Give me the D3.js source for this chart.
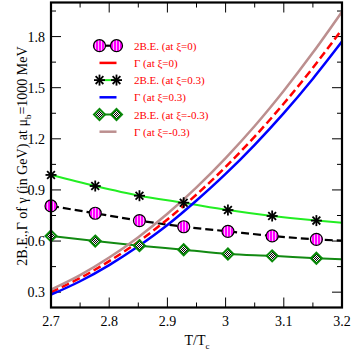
<!DOCTYPE html>
<html>
<head>
<meta charset="utf-8">
<script src="https://cdn.jsdelivr.net/npm/d3@7"></script>
<style>
  body { margin: 0; background: #fff; }
  svg text { font-family: "Liberation Serif", "Times New Roman", "DejaVu Serif", serif; }
  .tick-label { font-size: 14px; fill: #000; }
  .axis-title { font-size: 14px; fill: #000; }
  .legend { font-size: 11px; fill: #ff0000; }
</style>
</head>
<body>
<div id="chart"></div>
<script>
const width = 354;
const height = 354;

const margin = { top: 2.5, right: 12, bottom: 46.5, left: 51 };

// marker positions (T/Tc)
const tMarkers = [2.7, 2.776, 2.852, 2.928, 3.004, 3.08, 3.156];
// 2B.E. values
const beXi0   = [0.806, 0.763, 0.720, 0.684, 0.657, 0.630, 0.610];
const beXiP03 = [0.988, 0.923, 0.866, 0.825, 0.782, 0.747, 0.720];
const beXiM03 = [0.630, 0.600, 0.573, 0.549, 0.524, 0.513, 0.499];
// line end values at T/Tc = 3.2
const beEnd = { xi0: 0.602, xiP03: 0.708, xiM03: 0.493 };

// Gamma curves
const tCurve = [2.7, 2.75, 2.8, 2.85, 2.9, 2.95, 3.0, 3.05, 3.1, 3.15, 3.2];
const gXi0   = [0.300, 0.383, 0.482, 0.596, 0.727, 0.873, 1.035, 1.213, 1.407, 1.617, 1.843];
const gXiP03 = [0.285, 0.364, 0.459, 0.569, 0.694, 0.838, 0.994, 1.165, 1.351, 1.553, 1.771];
const gXiM03 = [0.315, 0.400, 0.503, 0.623, 0.760, 0.915, 1.087, 1.275, 1.482, 1.706, 1.946];

const xTicks = [2.7, 2.8, 2.9, 3.0, 3.1, 3.2];
const xTickLabels = ["2.7", "2.8", "2.9", "3", "3.1", "3.2"];
const yTicks = [0.3, 0.6, 0.9, 1.2, 1.5, 1.8];
const yTickLabels = ["0.3", "0.6", "0.9", "1.2", "1.5", "1.8"];

const legendLabels = [
  "2B.E. (at \u03be=0)",
  "\u0393 (at \u03be=0)",
  "2B.E. (at \u03be=0.3)",
  "\u0393 (at \u03be=0.3)",
  "2B.E. (at \u03be=-0.3)",
  "\u0393 (at \u03be=-0.3)"
];

const serif = "'Liberation Serif', 'Times New Roman', 'DejaVu Serif', serif";

const svg = d3.select("#chart").append("svg")
  .attr("width", width)
  .attr("height", height)
  .attr("font-family", serif);

// patterns
const defs = svg.append("defs");
const stripe = defs.append("pattern")
  .attr("id", "stripes")
  .attr("patternUnits", "userSpaceOnUse")
  .attr("width", 3).attr("height", 3);
stripe.append("rect").attr("width", 3).attr("height", 3).attr("fill", "#ff00ff");
stripe.append("rect").attr("x", 2).attr("width", 1).attr("height", 3).attr("fill", "#ffb0ff");

const checker = defs.append("pattern")
  .attr("id", "checker")
  .attr("patternUnits", "userSpaceOnUse")
  .attr("width", 2).attr("height", 2);
checker.append("rect").attr("width", 2).attr("height", 2).attr("fill", "#fff");
checker.append("rect").attr("width", 1).attr("height", 1).attr("fill", "#000");
checker.append("rect").attr("x", 1).attr("y", 1).attr("width", 1).attr("height", 1).attr("fill", "#000");

defs.append("clipPath").attr("id", "plotclip")
  .append("rect")
  .attr("x", margin.left).attr("y", margin.top)
  .attr("width", width - margin.left - margin.right)
  .attr("height", height - margin.top - margin.bottom);

const x = d3.scaleLinear()
  .domain([2.7, 3.2])
  .range([margin.left, width - margin.right]);

const y = d3.scaleLinear()
  .domain([0.21, 2.0])
  .range([height - margin.bottom, margin.top]);

// ticks (inward on all four sides)
const tickG = svg.append("g").attr("stroke", "#000").attr("stroke-width", 1);
const xMinor = d3.range(2.75, 3.2, 0.1);
const yMinor = d3.range(0.45, 2.0, 0.3);

xTicks.forEach(t => {
  tickG.append("line").attr("x1", x(t)).attr("x2", x(t))
    .attr("y1", y.range()[0]).attr("y2", y.range()[0] - 10);
  tickG.append("line").attr("x1", x(t)).attr("x2", x(t))
    .attr("y1", y.range()[1]).attr("y2", y.range()[1] + 10);
});
xMinor.forEach(t => {
  tickG.append("line").attr("x1", x(t)).attr("x2", x(t))
    .attr("y1", y.range()[0]).attr("y2", y.range()[0] - 5);
  tickG.append("line").attr("x1", x(t)).attr("x2", x(t))
    .attr("y1", y.range()[1]).attr("y2", y.range()[1] + 5);
});
yTicks.forEach(v => {
  tickG.append("line").attr("y1", y(v)).attr("y2", y(v))
    .attr("x1", x.range()[0]).attr("x2", x.range()[0] + 10);
  tickG.append("line").attr("y1", y(v)).attr("y2", y(v))
    .attr("x1", x.range()[1]).attr("x2", x.range()[1] - 10);
});
yMinor.forEach(v => {
  tickG.append("line").attr("y1", y(v)).attr("y2", y(v))
    .attr("x1", x.range()[0]).attr("x2", x.range()[0] + 5);
  tickG.append("line").attr("y1", y(v)).attr("y2", y(v))
    .attr("x1", x.range()[1]).attr("x2", x.range()[1] - 5);
});

// tick labels
svg.selectAll("text.xtl")
  .data(xTicks)
  .enter().append("text")
  .attr("class", "tick-label xtl")
  .attr("font-family", serif)
  .attr("x", d => x(d))
  .attr("y", 326)
  .attr("text-anchor", "middle")
  .text((d, i) => xTickLabels[i]);

svg.selectAll("text.ytl")
  .data(yTicks)
  .enter().append("text")
  .attr("class", "tick-label ytl")
  .attr("font-family", serif)
  .attr("x", 45)
  .attr("y", d => y(d) + 5)
  .attr("text-anchor", "end")
  .text((d, i) => yTickLabels[i]);

// axis titles
const xt = svg.append("text")
  .attr("class", "axis-title")
  .attr("font-family", serif)
  .attr("x", 197)
  .attr("y", 345)
  .attr("text-anchor", "middle");
xt.append("tspan").text("T/T");
xt.append("tspan").attr("dy", 4).attr("font-size", "9px").text("c");

const yt = svg.append("text")
  .attr("class", "axis-title")
  .attr("font-family", serif)
  .attr("transform", "translate(27," + 156 + ") rotate(-90)")
  .attr("text-anchor", "middle");
yt.append("tspan").text("2B.E.,\u0393 of \u03b3 (in GeV) at \u03bc");
yt.append("tspan").attr("dy", 4).attr("font-size", "9px").text("b");
yt.append("tspan").attr("dy", -4).text("=1000 MeV");

// plot content
const plot = svg.append("g").attr("clip-path", "url(#plotclip)");

const line = d3.line()
  .x(d => x(d[0]))
  .y(d => y(d[1]))
  .curve(d3.curveMonotoneX);

function markerLine(vals, endVal) {
  const pts = tMarkers.map((t, i) => [t, vals[i]]);
  pts.push([3.2, endVal]);
  return pts;
}

function drawCircle(g, cx, cy) {
  g.append("circle").attr("cx", cx).attr("cy", cy).attr("r", 6)
    .attr("fill", "url(#stripes)").attr("stroke", "#000").attr("stroke-width", 1.2);
}
function drawStar(g, cx, cy) {
  const r = 5.5;
  [0, 45, 90, 135].forEach(a => {
    const rad = a * Math.PI / 180;
    g.append("line")
      .attr("x1", cx - r * Math.cos(rad)).attr("y1", cy - r * Math.sin(rad))
      .attr("x2", cx + r * Math.cos(rad)).attr("y2", cy + r * Math.sin(rad))
      .attr("stroke", "#000").attr("stroke-width", 1.8);
  });
}
function drawDiamond(g, cx, cy) {
  const r = 5.5;
  g.append("path")
    .attr("d", `M${cx},${cy - r}L${cx + r},${cy}L${cx},${cy + r}L${cx - r},${cy}Z`)
    .attr("fill", "url(#checker)").attr("stroke", "#0a8a0a").attr("stroke-width", 2);
}

const series = [
  { type: "be", vals: beXi0, end: beEnd.xi0, color: "#000", dash: "8,4", width: 2.2, marker: drawCircle },
  { type: "g", vals: gXi0, color: "#ff0000", dash: "8,4", width: 2.5 },
  { type: "be", vals: beXiP03, end: beEnd.xiP03, color: "#22ee22", dash: null, width: 2, marker: drawStar },
  { type: "g", vals: gXiP03, color: "#0000ff", dash: null, width: 2.5 },
  { type: "be", vals: beXiM03, end: beEnd.xiM03, color: "#128a12", dash: null, width: 2, marker: drawDiamond },
  { type: "g", vals: gXiM03, color: "#bc8f8f", dash: null, width: 2.5 }
];

series.forEach(s => {
  const pts = s.type === "be" ? markerLine(s.vals, s.end) : tCurve.map((t, i) => [t, s.vals[i]]);
  plot.append("path")
    .datum(pts)
    .attr("d", line)
    .attr("fill", "none")
    .attr("stroke", s.color)
    .attr("stroke-width", s.width)
    .attr("stroke-dasharray", s.dash);
  if (s.type === "be") {
    const mg = svg.append("g");
    tMarkers.forEach((t, i) => s.marker(mg, x(t), y(s.vals[i])));
  }
});

// legend
const legendTop = 45.7;
const legendStep = 17.2;
const leg = svg.append("g");
series.forEach((s, i) => {
  const ly = legendTop + i * legendStep;
  leg.append("line")
    .attr("x1", 99.5).attr("x2", 116.5)
    .attr("y1", ly).attr("y2", ly)
    .attr("stroke", s.color)
    .attr("stroke-width", s.width);
  if (s.type === "be") {
    s.marker(leg, 99.5, ly);
    s.marker(leg, 116.5, ly);
  }
  leg.append("text")
    .attr("class", "legend")
    .attr("font-family", serif)
    .attr("x", 134)
    .attr("y", ly + 4)
    .text(legendLabels[i]);
});

// frame
svg.append("rect")
  .attr("x", margin.left).attr("y", margin.top)
  .attr("width", width - margin.left - margin.right)
  .attr("height", height - margin.top - margin.bottom)
  .attr("fill", "none")
  .attr("stroke", "#000")
  .attr("stroke-width", 2.2);
</script>
</body>
</html>
